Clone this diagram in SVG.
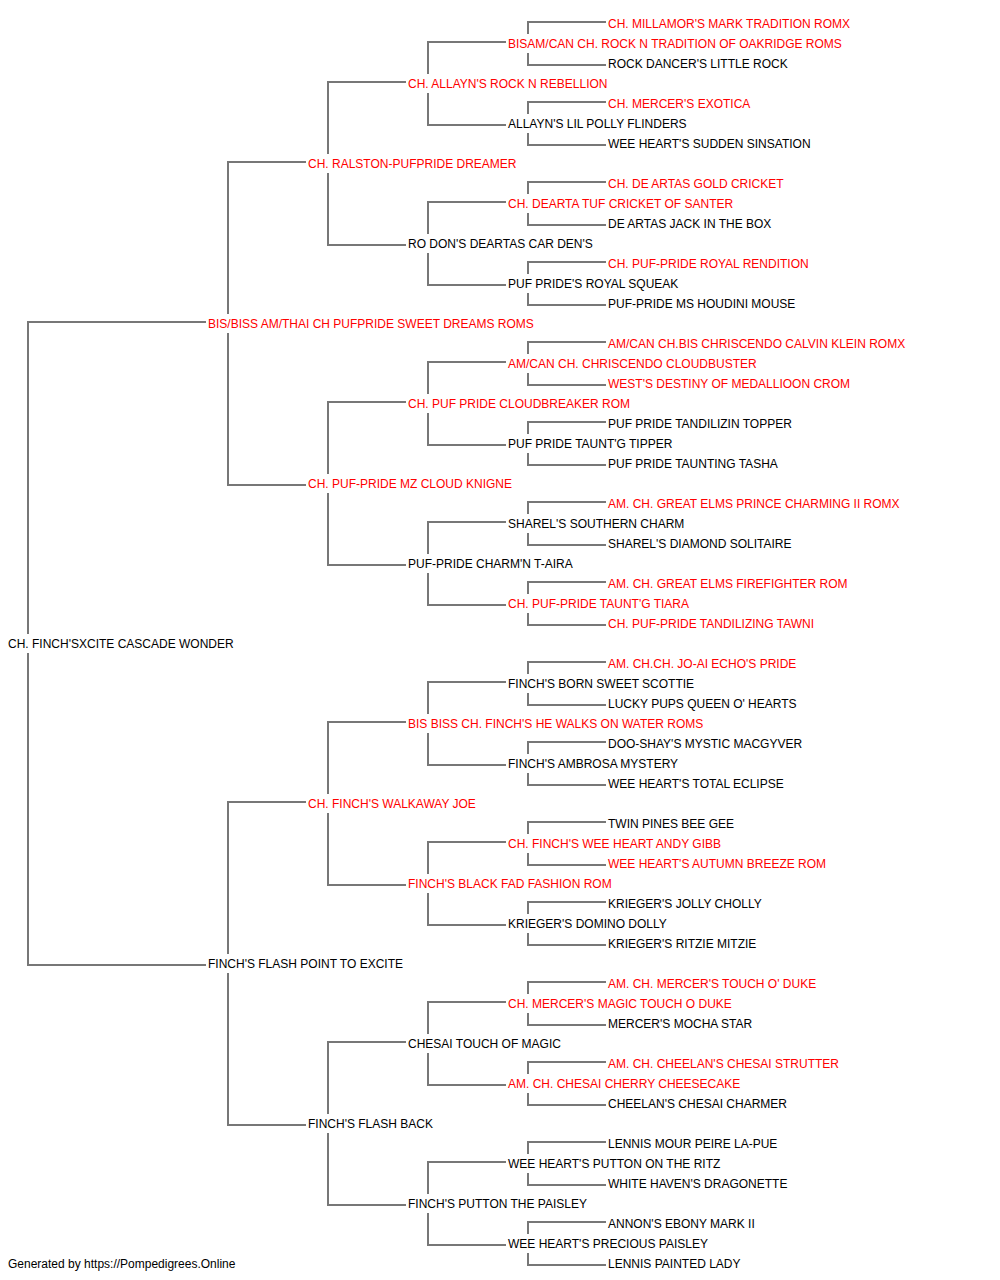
<svg xmlns="http://www.w3.org/2000/svg" width="1000" height="1280" viewBox="0 0 1000 1280">
<style>
text{font-family:"Liberation Sans",Arial,sans-serif;font-size:12px;fill:#000}
.r{fill:#ff0000}
.c{fill:none;stroke:#777777;stroke-width:2}
</style>
<rect width="1000" height="1280" fill="#ffffff"/>
<g id="connectors" class="c">
<path d="M206,322H28V634M28,653V965H206"/>
<path d="M306,162H228V314M228,333V485H306"/>
<path d="M306,802H228V954M228,973V1125H306"/>
<path d="M406,82H328V154M328,173V245H406"/>
<path d="M406,402H328V474M328,493V565H406"/>
<path d="M406,722H328V794M328,813V885H406"/>
<path d="M406,1042H328V1114M328,1133V1205H406"/>
<path d="M506,42H428V74M428,93V125H506"/>
<path d="M506,202H428V234M428,253V285H506"/>
<path d="M506,362H428V394M428,413V445H506"/>
<path d="M506,522H428V554M428,573V605H506"/>
<path d="M506,682H428V714M428,733V765H506"/>
<path d="M506,842H428V874M428,893V925H506"/>
<path d="M506,1002H428V1034M428,1053V1085H506"/>
<path d="M506,1162H428V1194M428,1213V1245H506"/>
<path d="M606,22H528V34M528,53V65H606"/>
<path d="M606,102H528V114M528,133V145H606"/>
<path d="M606,182H528V194M528,213V225H606"/>
<path d="M606,262H528V274M528,293V305H606"/>
<path d="M606,342H528V354M528,373V385H606"/>
<path d="M606,422H528V434M528,453V465H606"/>
<path d="M606,502H528V514M528,533V545H606"/>
<path d="M606,582H528V594M528,613V625H606"/>
<path d="M606,662H528V674M528,693V705H606"/>
<path d="M606,742H528V754M528,773V785H606"/>
<path d="M606,822H528V834M528,853V865H606"/>
<path d="M606,902H528V914M528,933V945H606"/>
<path d="M606,982H528V994M528,1013V1025H606"/>
<path d="M606,1062H528V1074M528,1093V1105H606"/>
<path d="M606,1142H528V1154M528,1173V1185H606"/>
<path d="M606,1222H528V1234M528,1253V1265H606"/>
</g>
<g id="n0"><text class="r" x="608" y="28">CH. MILLAMOR'S MARK TRADITION ROMX</text></g>
<g id="n1"><text class="r" x="508" y="48">BISAM/CAN CH. ROCK N TRADITION OF OAKRIDGE ROMS</text></g>
<g id="n2"><text x="608" y="68">ROCK DANCER'S LITTLE ROCK</text></g>
<g id="n3"><text class="r" x="408" y="88">CH. ALLAYN'S ROCK N REBELLION</text></g>
<g id="n4"><text class="r" x="608" y="108">CH. MERCER'S EXOTICA</text></g>
<g id="n5"><text x="508" y="128">ALLAYN'S LIL POLLY FLINDERS</text></g>
<g id="n6"><text x="608" y="148">WEE HEART'S SUDDEN SINSATION</text></g>
<g id="n7"><text class="r" x="308" y="168">CH. RALSTON-PUFPRIDE DREAMER</text></g>
<g id="n8"><text class="r" x="608" y="188">CH. DE ARTAS GOLD CRICKET</text></g>
<g id="n9"><text class="r" x="508" y="208">CH. DEARTA TUF CRICKET OF SANTER</text></g>
<g id="n10"><text x="608" y="228">DE ARTAS JACK IN THE BOX</text></g>
<g id="n11"><text x="408" y="248">RO DON'S DEARTAS CAR DEN'S</text></g>
<g id="n12"><text class="r" x="608" y="268">CH. PUF-PRIDE ROYAL RENDITION</text></g>
<g id="n13"><text x="508" y="288">PUF PRIDE'S ROYAL SQUEAK</text></g>
<g id="n14"><text x="608" y="308">PUF-PRIDE MS HOUDINI MOUSE</text></g>
<g id="n15"><text class="r" x="208" y="328">BIS/BISS AM/THAI CH PUFPRIDE SWEET DREAMS ROMS</text></g>
<g id="n16"><text class="r" x="608" y="348">AM/CAN CH.BIS CHRISCENDO CALVIN KLEIN ROMX</text></g>
<g id="n17"><text class="r" x="508" y="368">AM/CAN CH. CHRISCENDO CLOUDBUSTER</text></g>
<g id="n18"><text class="r" x="608" y="388">WEST'S DESTINY OF MEDALLIOON CROM</text></g>
<g id="n19"><text class="r" x="408" y="408">CH. PUF PRIDE CLOUDBREAKER ROM</text></g>
<g id="n20"><text x="608" y="428">PUF PRIDE TANDILIZIN TOPPER</text></g>
<g id="n21"><text x="508" y="448">PUF PRIDE TAUNT'G TIPPER</text></g>
<g id="n22"><text x="608" y="468">PUF PRIDE TAUNTING TASHA</text></g>
<g id="n23"><text class="r" x="308" y="488">CH. PUF-PRIDE MZ CLOUD KNIGNE</text></g>
<g id="n24"><text class="r" x="608" y="508">AM. CH. GREAT ELMS PRINCE CHARMING II ROMX</text></g>
<g id="n25"><text x="508" y="528">SHAREL'S SOUTHERN CHARM</text></g>
<g id="n26"><text x="608" y="548">SHAREL'S DIAMOND SOLITAIRE</text></g>
<g id="n27"><text x="408" y="568">PUF-PRIDE CHARM'N T-AIRA</text></g>
<g id="n28"><text class="r" x="608" y="588">AM. CH. GREAT ELMS FIREFIGHTER ROM</text></g>
<g id="n29"><text class="r" x="508" y="608">CH. PUF-PRIDE TAUNT'G TIARA</text></g>
<g id="n30"><text class="r" x="608" y="628">CH. PUF-PRIDE TANDILIZING TAWNI</text></g>
<g id="n31"><text x="8" y="648">CH. FINCH'SXCITE CASCADE WONDER</text></g>
<g id="n32"><text class="r" x="608" y="668">AM. CH.CH. JO-AI ECHO'S PRIDE</text></g>
<g id="n33"><text x="508" y="688">FINCH'S BORN SWEET SCOTTIE</text></g>
<g id="n34"><text x="608" y="708">LUCKY PUPS QUEEN O' HEARTS</text></g>
<g id="n35"><text class="r" x="408" y="728">BIS BISS CH. FINCH'S HE WALKS ON WATER ROMS</text></g>
<g id="n36"><text x="608" y="748">DOO-SHAY'S MYSTIC MACGYVER</text></g>
<g id="n37"><text x="508" y="768">FINCH'S AMBROSA MYSTERY</text></g>
<g id="n38"><text x="608" y="788">WEE HEART'S TOTAL ECLIPSE</text></g>
<g id="n39"><text class="r" x="308" y="808">CH. FINCH'S WALKAWAY JOE</text></g>
<g id="n40"><text x="608" y="828">TWIN PINES BEE GEE</text></g>
<g id="n41"><text class="r" x="508" y="848">CH. FINCH'S WEE HEART ANDY GIBB</text></g>
<g id="n42"><text class="r" x="608" y="868">WEE HEART'S AUTUMN BREEZE ROM</text></g>
<g id="n43"><text class="r" x="408" y="888">FINCH'S BLACK FAD FASHION ROM</text></g>
<g id="n44"><text x="608" y="908">KRIEGER'S JOLLY CHOLLY</text></g>
<g id="n45"><text x="508" y="928">KRIEGER'S DOMINO DOLLY</text></g>
<g id="n46"><text x="608" y="948">KRIEGER'S RITZIE MITZIE</text></g>
<g id="n47"><text x="208" y="968">FINCH'S FLASH POINT TO EXCITE</text></g>
<g id="n48"><text class="r" x="608" y="988">AM. CH. MERCER'S TOUCH O' DUKE</text></g>
<g id="n49"><text class="r" x="508" y="1008">CH. MERCER'S MAGIC TOUCH O DUKE</text></g>
<g id="n50"><text x="608" y="1028">MERCER'S MOCHA STAR</text></g>
<g id="n51"><text x="408" y="1048">CHESAI TOUCH OF MAGIC</text></g>
<g id="n52"><text class="r" x="608" y="1068">AM. CH. CHEELAN'S CHESAI STRUTTER</text></g>
<g id="n53"><text class="r" x="508" y="1088">AM. CH. CHESAI CHERRY CHEESECAKE</text></g>
<g id="n54"><text x="608" y="1108">CHEELAN'S CHESAI CHARMER</text></g>
<g id="n55"><text x="308" y="1128">FINCH'S FLASH BACK</text></g>
<g id="n56"><text x="608" y="1148">LENNIS MOUR PEIRE LA-PUE</text></g>
<g id="n57"><text x="508" y="1168">WEE HEART'S PUTTON ON THE RITZ</text></g>
<g id="n58"><text x="608" y="1188">WHITE HAVEN'S DRAGONETTE</text></g>
<g id="n59"><text x="408" y="1208">FINCH'S PUTTON THE PAISLEY</text></g>
<g id="n60"><text x="608" y="1228">ANNON'S EBONY MARK II</text></g>
<g id="n61"><text x="508" y="1248">WEE HEART'S PRECIOUS PAISLEY</text></g>
<g id="n62"><text x="608" y="1268">LENNIS PAINTED LADY</text></g>
<g id="footer"><text x="8" y="1268">Generated by https://Pompedigrees.Online</text></g>
</svg>
